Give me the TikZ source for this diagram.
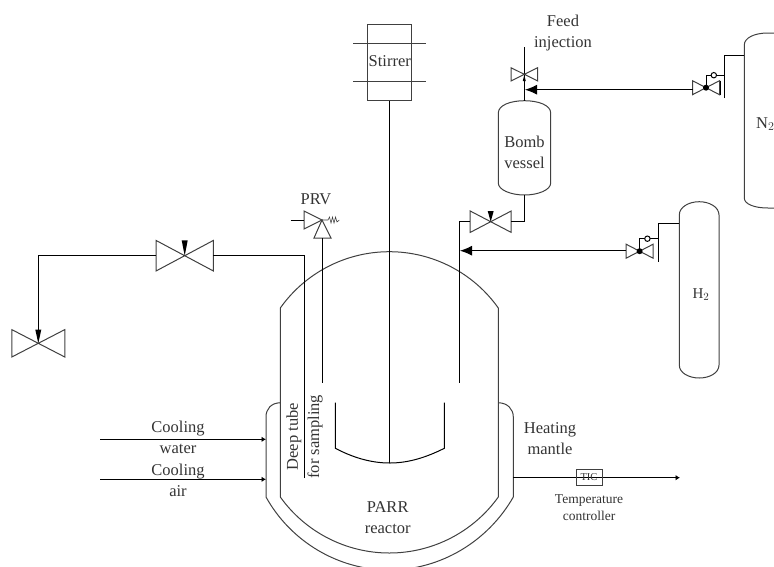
\documentclass[tikz,border=0pt]{standalone}
\usepackage{fontspec}
\setmainfont{Liberation Serif}
\usetikzlibrary{arrows.meta}
\tikzset{
  pipe/.style={line width=1pt, black},
  shell/.style={line width=1pt, black!75},
  lbl/.style={text=black!80, font=\fontsize{16.5}{20}\selectfont, inner sep=0pt, align=center},
  smalllbl/.style={text=black!80, font=\fontsize{13.5}{16}\selectfont, inner sep=0pt, align=center},
  bigarrow/.style={pipe, -{Latex[length=12pt, width=10pt]}},
  tinyarrow/.style={pipe, -{Latex[length=4.5pt, width=5.5pt]}},
  % valve: half width, half height
  pics/valve/.style 2 args={code={
    \draw[shell] (-#1,-#2) -- (#1,#2) -- (#1,-#2) -- (-#1,#2) -- cycle;
    \coordinate (-w) at (-#1,0);
    \coordinate (-e) at (#1,0);
    \coordinate (-top) at (0,-#2);
    \fill[black] (-3,-#2) -- (3,-#2) -- (0,0) -- cycle;
  }},
  % regulator valve of a gas bottle
  pics/regulator/.style={code={
    \draw[shell] (-13.5,-7) -- (13.5,7) -- (13.5,-7) -- (-13.5,7) -- cycle;
    \fill[black] (0,0) circle (3pt);
    \draw[pipe] (0,0) -- (0,-12.5) -- (18.5,-12.5);
    \draw[pipe, fill=white] (7.8,-12.5) circle (2.7pt);
    \coordinate (-w) at (-13.5,0);
    \coordinate (-e) at (18.5,-12.5);
  }},
}
\begin{document}
\begin{tikzpicture}[x=1pt, y=-1pt]
  \path[use as bounding box, clip] (0,0) rectangle (774,566);

  % reactor
  \draw[shell] (280.3,497) -- (280.3,308) .. controls (305.3,272.7) and (346,251.7) .. (389.3,251.7)
    .. controls (432.6,251.7) and (473.3,272.7) .. (498.3,308) -- (498.3,497)
    .. controls (473.3,532) and (432.6,553) .. (389.3,553)
    .. controls (346,553) and (305.3,532) .. (280.3,497);
  % mantle
  \draw[shell] (280.3,402.7) .. controls (271,403) and (266,409) .. (266,417) -- (266,497)
    .. controls (290.8,541.6) and (338.3,570) .. (389.3,570)
    .. controls (440.3,570) and (487.8,541.6) .. (513.3,497) -- (513.3,417)
    .. controls (513.3,409) and (507.6,403) .. (498.3,402.7);

  % stirrer
  \node[shell, draw, minimum width=44.3pt, minimum height=76pt, inner sep=0pt] (stirrer) at (389.8,62.7) {};
  \node[lbl] (stirrertxt) at (389.8,60.7) {Stirrer};
  \draw[shell] (353,43.7) -- (426,43.7);
  \draw[shell] (353,81.7) -- (426,81.7);
  \coordinate (hub) at (389.8,463);
  \draw[pipe] (stirrer.south) -- (hub);
  \draw[pipe] (335.3,402.7) -- (335.3,448.3) .. controls (352,457) and (370,463) .. (hub)
    .. controls (409,463) and (427,457) .. (444.3,448.3) -- (444.3,402.7);

  % sampling line
  \pic (samplev) at (184.7,255.7) {valve={28.7}{15.3}};
  \pic (drainv) at (38.3,343.3) {valve={26.5}{13.7}};
  \coordinate (deepend) at (304,478);
  \draw[pipe] (deepend) |- (samplev-e);
  \draw[pipe] (samplev-w) -| (drainv-top);

  % PRV
  \coordinate (prv) at (322,220);
  \coordinate (prvin) at (322,383);
  \draw[shell] (304,211) -- (304,229) -- (prv) -- cycle;
  \draw[shell] (prv) -- (314,238) -- (331,238) -- cycle;
  \draw[pipe] (290.7,220) -- (304,220);
  \draw[pipe] (322,238) -- (prvin);
  \draw[shell, line width=0.6pt] (prv) -- (328,220) -- (329.5,217) -- (331,223) -- (332.5,217) -- (334,223) -- (335.5,217) -- (337,222) -- (339.3,220);
  \node[lbl] (prvtxt) at (316,199) {PRV};

  % bomb vessel
  \draw[shell] (498.3,113) .. controls (498.3,105) and (511,100.7) .. (524.5,100.7)
    .. controls (538,100.7) and (550.7,105) .. (550.7,113) -- (550.7,183)
    .. controls (550.7,190) and (538,195) .. (524.5,195)
    .. controls (511,195) and (498.3,190) .. (498.3,183) -- cycle;
  \node[lbl] (bomb) at (524.5,152) {Bomb\\[1pt]vessel};
  \coordinate (bombtop) at (524.3,100.7);
  \coordinate (bombbot) at (524.3,195);
  \coordinate (feedtop) at (524.3,47);
  \draw[pipe] (feedtop) -- (bombtop);
  \draw[shell] (511,67.7) -- (537.7,81) -- (537.7,67.7) -- (511,81) -- cycle;
  \fill[black] (522.8,81) -- (525.8,81) -- (524.3,75) -- cycle;
  \node[lbl] (feed) at (563,33.5) {Feed\\[1pt]injection};

  % inlet line
  \pic (bombv) at (490.7,221.7) {valve={20.5}{10.7}};
  \coordinate (inend) at (459.3,383);
  \draw[pipe] (bombbot) |- (bombv-e);
  \draw[pipe] (bombv-w) -| (inend);

  % N2
  \draw[shell] (800,33) -- (768,33) .. controls (754,33) and (744.3,38) .. (744.3,45) -- (744.3,198)
    .. controls (744.3,204) and (754,208) .. (768,208) -- (800,208);
  \node[lbl] (n2) at (765.3,124) {N$_2$};
  \pic (n2v) at (706,87.7) {regulator};
  \draw[pipe] (720,81) -- (720,94.5);
  \draw[pipe] (724,98) -- (724,55) -- (744.3,55);
  \draw[pipe] (n2v-e) -- (724,75.2);
  \coordinate (feedin) at (525,89.7);
  \draw[bigarrow] (n2v-w |- feedin) -- (feedin);

  % H2
  \draw[shell] (679.3,215) .. controls (679.3,207) and (689,201.7) .. (699.2,201.7)
    .. controls (709.5,201.7) and (719,207) .. (719,215) -- (719,365)
    .. controls (719,373) and (709.5,378) .. (699.2,378)
    .. controls (689,378) and (679.3,373) .. (679.3,365) -- cycle;
  \node[lbl, font=\fontsize{15}{18}\selectfont] (h2) at (701,295) {H$_2$};
  \pic (h2v) at (639.6,251.2) {regulator};
  \draw[pipe] (658.3,261.7) -- (658.3,223.3) -- (679.3,223.3);
  \coordinate (h2in) at (460,250.7);
  \draw[bigarrow] (h2v-w |- h2in) -- (h2in);

  % cooling
  \coordinate (coolw) at (100,439.3);
  \coordinate (coola) at (100,479.3);
  \draw[tinyarrow] (coolw) -- (266,439.3);
  \draw[tinyarrow] (coola) -- (266,479.3);
  \node[lbl] (water) at (178,437.5) {Cooling\\[1pt]water};
  \node[lbl] (air) at (178,480.5) {Cooling\\[1pt]air};

  % tube labels
  \node[lbl, rotate=90] (deep) at (294,436.7) {Deep tube};
  \node[lbl, rotate=90] (sampling) at (315,436.7) {for sampling};
  \node[lbl] (parr) at (387.7,517.5) {PARR\\[1pt]reactor};

  % heating mantle
  \node[lbl] (mantle) at (550,439) {Heating\\[1pt]mantle};
  \coordinate (tcout) at (680,477.7);
  \draw[tinyarrow] (513.3,477.7) -- (tcout);
  \node[shell, draw, minimum width=26pt, minimum height=16.7pt, inner sep=0pt, text=black!80, font=\fontsize{10.5}{12}\selectfont] (tic) at (589,477.4) {TIC};
  \node[smalllbl] (tc) at (589,507.5) {Temperature\\[1pt]controller};
\end{tikzpicture}
\end{document}
